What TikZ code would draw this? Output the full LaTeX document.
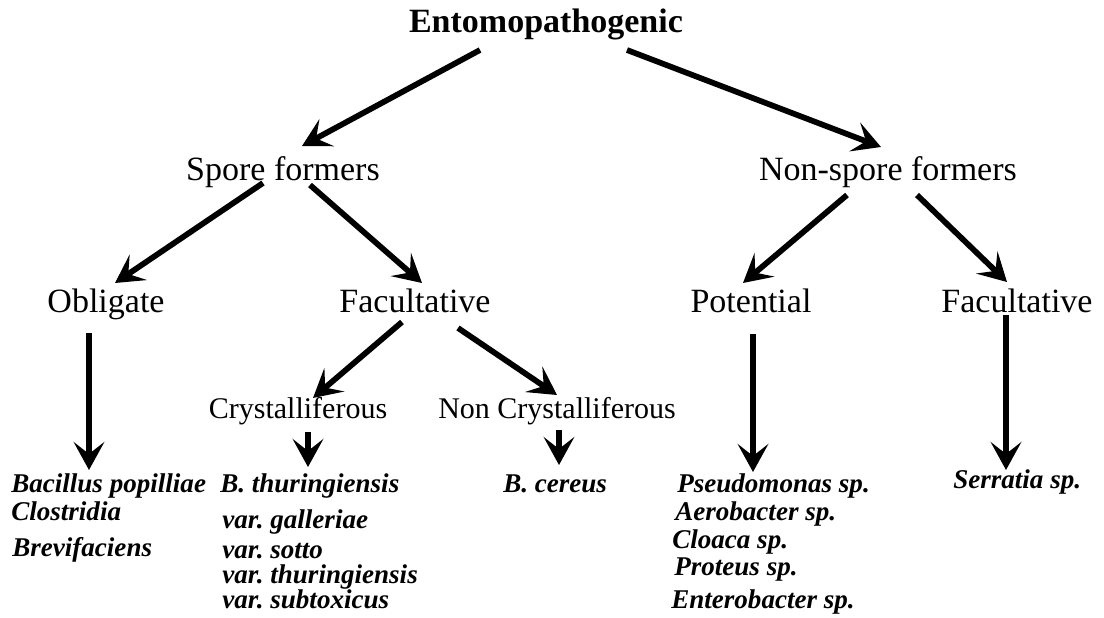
\documentclass[tikz,border=0pt]{standalone}
\usepackage{fontspec}
\setmainfont{Liberation Serif}
\usetikzlibrary{arrows.meta}
\frenchspacing
\begin{document}
\begin{tikzpicture}[x=0.75pt,y=-0.75pt,
  arr/.style={line width=4.3pt,-{Stealth[length=21pt,width=23pt,inset=9pt]}},
  top/.style={font=\fontsize{25.5pt}{28pt}\selectfont\bfseries,anchor=base,inner sep=0pt},
  lvl/.style={font=\fontsize{25.5pt}{28pt}\selectfont,anchor=base,inner sep=0pt},
  sub/.style={font=\fontsize{22.5pt}{26pt}\selectfont,anchor=base,inner sep=0pt},
  sp/.style={font=\fontsize{20.3pt}{24pt}\selectfont\bfseries\itshape,anchor=base west,inner sep=0pt}]
\useasboundingbox[fill=white] (0,0) rectangle (1104,618);
% labels
\node[top] (ento) at (546,32) {Entomopathogenic};
\node[lvl] (spore) at (283,180) {Spore formers};
\node[lvl] (nspore) at (888,180) {Non-spore formers};
\node[lvl] (oblig) at (106,312) {Obligate};
\node[lvl] (facl) at (415,312) {Facultative};
\node[lvl] (pot) at (751,312) {Potential};
\node[lvl] (facr) at (1017,312) {Facultative};
\node[sub] (cryst) at (298,418) {Crystalliferous};
\node[sub] (ncryst) at (557,418) {Non Crystalliferous};
% species
\node[sp] (bpop) at (11,492) {Bacillus popilliae};
\node[sp] (clos) at (11,520) {Clostridia};
\node[sp] (brev) at (12,556) {Brevifaciens};
\node[sp] (bthu) at (220,492) {B. thuringiensis};
\node[sp] (vgal) at (222,528) {var. galleriae};
\node[sp] (vsot) at (222,558) {var. sotto};
\node[sp] (vthu) at (222,583) {var. thuringiensis};
\node[sp] (vsub) at (222,608) {var. subtoxicus};
\node[sp] (bcer) at (503,492) {B. cereus};
\node[sp] (pseu) at (677,492) {Pseudomonas sp.};
\node[sp] (aero) at (675,520) {Aerobacter sp.};
\node[sp] (cloa) at (672,548) {Cloaca sp.};
\node[sp] (prot) at (674,575) {Proteus sp.};
\node[sp] (ente) at (671,608) {Enterobacter sp.};
\node[sp] (serr) at (953,488) {Serratia sp.};
% arrow end points
\coordinate (e1) at (480,50);   \coordinate (t1) at (302,146);
\coordinate (e2) at (627,50);   \coordinate (t2) at (881,147);
\coordinate (s1) at (263,183);  \coordinate (t3) at (115,283);
\coordinate (s2) at (310,185);  \coordinate (t4) at (422,283);
\coordinate (n1) at (847,195);  \coordinate (t5) at (743,283);
\coordinate (n2) at (917,195);  \coordinate (t6) at (1007,282);
\coordinate (f1) at (402,322);  \coordinate (t7) at (313,398);
\coordinate (f2) at (458,328);  \coordinate (t8) at (557,395);
\coordinate (o1) at (89,333);   \coordinate (t9) at (89,470);
\coordinate (c1) at (308,432);  \coordinate (t10) at (308,467);
\coordinate (c2) at (559,430);  \coordinate (t11) at (559,465);
\coordinate (p1) at (753,334);  \coordinate (t12) at (753,472);
\coordinate (r1) at (1006,315); \coordinate (t13) at (1006,470);
% arrows
\draw[arr] (e1) -- (t1);
\draw[arr] (e2) -- (t2);
\draw[arr] (s1) -- (t3);
\draw[arr] (s2) -- (t4);
\draw[arr] (n1) -- (t5);
\draw[arr] (n2) -- (t6);
\draw[arr] (f1) -- (t7);
\draw[arr] (f2) -- (t8);
\draw[arr] (o1) -- (t9);
\draw[arr] (c1) -- (t10);
\draw[arr] (c2) -- (t11);
\draw[arr] (p1) -- (t12);
\draw[arr] (r1) -- (t13);
\end{tikzpicture}
\end{document}
